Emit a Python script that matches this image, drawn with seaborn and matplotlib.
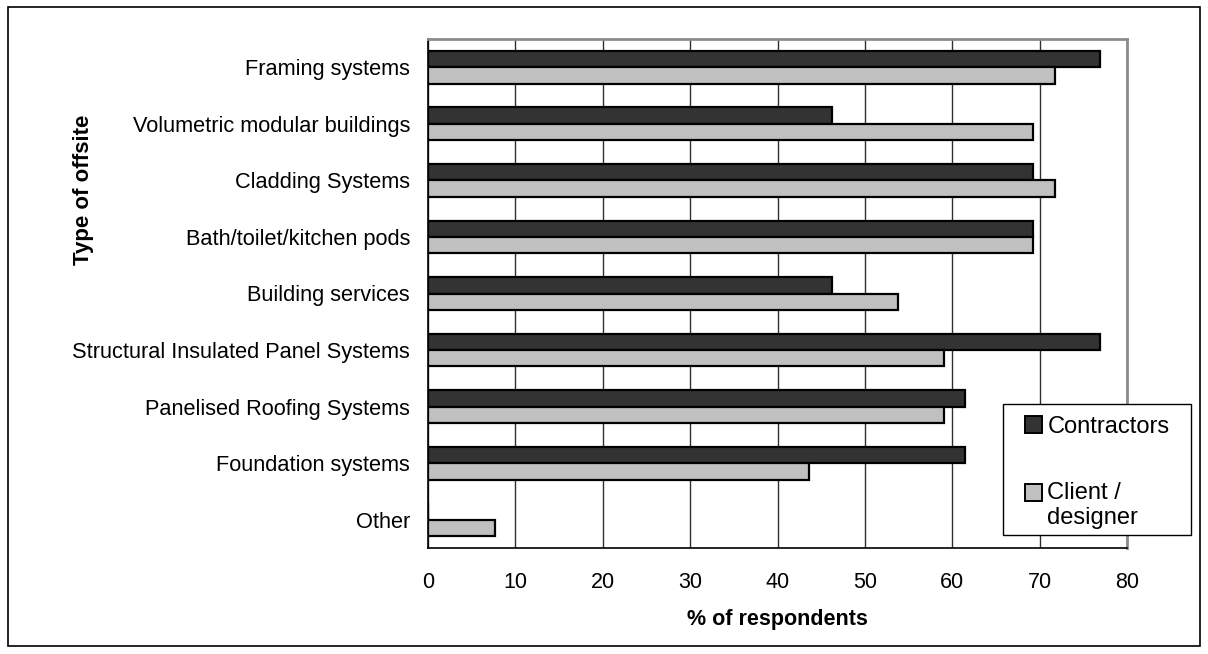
import matplotlib
matplotlib.use("Agg")
import matplotlib.pyplot as plt
from matplotlib.patches import Rectangle, Patch
from matplotlib.legend_handler import HandlerPatch
import numpy as np
import pandas as pd
import seaborn as sns

# Survey results: share of respondents per type of offsite construction
categories = [
    "Framing systems",
    "Volumetric modular buildings",
    "Cladding Systems",
    "Bath/toilet/kitchen pods",
    "Building services",
    "Structural Insulated Panel Systems",
    "Panelised Roofing Systems",
    "Foundation systems",
    "Other",
]
contractors = [76.9, 46.2, 69.2, 69.2, 46.2, 76.9, 61.5, 61.5, 0.0]
client_designer = [71.8, 69.2, 71.8, 69.2, 53.8, 59.0, 59.0, 43.6, 7.7]
series_names = ["Contractors", "Client / designer"]
legend_labels = ["Contractors", "Client /\ndesigner"]
x_ticks = [0, 10, 20, 30, 40, 50, 60, 70, 80]

df = pd.DataFrame({
    "Type": categories * 2,
    "Percent": contractors + client_designer,
    "Group": [series_names[0]] * len(categories) + [series_names[1]] * len(categories),
})

sns.set_theme(style="white")
plt.rcParams["font.family"] = ["Liberation Sans", "DejaVu Sans"]
for key in ["text.color", "axes.labelcolor", "xtick.color", "ytick.color"]:
    plt.rcParams[key] = "black"

W, H = 1208, 654
fig = plt.figure(figsize=(W / 100, H / 100), dpi=100)
ax = fig.add_axes([428 / W, 1 - 548 / H, (1127 - 428) / W, (548 - 39) / H])

colors = ["#333333", "#c0c0c0"]
sns.barplot(
    data=df, y="Type", x="Percent", hue="Group", order=categories,
    hue_order=series_names, palette=colors, orient="h", width=0.58,
    edgecolor="black", linewidth=1.6, ax=ax, legend=False, zorder=3,
)

ax.set_xlim(0, 80)
ax.set_ylim(len(categories) - 0.5, -0.5)
ax.set_xticks(x_ticks)
ax.set_xticklabels([str(t) for t in x_ticks], fontsize=15.5)
ax.tick_params(axis="x", direction="out", length=6, width=1, color="black", pad=11)

# Category labels at centres, tick marks at category boundaries
ax.set_yticks(range(len(categories)))
ax.set_yticklabels(categories, fontsize=15.7)
ax.tick_params(axis="y", length=0, pad=13)
ax.set_yticks(np.arange(-0.5, len(categories)), minor=True)
ax.tick_params(axis="y", which="minor", direction="out", length=6, width=1, color="black")

ax.grid(axis="x", color="#303030", linewidth=1, zorder=0)
ax.grid(axis="y", visible=False)
ax.set_axisbelow(True)

for side in ["left", "bottom"]:
    ax.spines[side].set_color("black")
    ax.spines[side].set_linewidth(1.2)
for side in ["top", "right"]:
    ax.spines[side].set_color("#8c8c8c")
    ax.spines[side].set_linewidth(2)

ax.set_xlabel("% of respondents", fontsize=15.5, fontweight="bold", labelpad=12)
ax.set_ylabel("Type of offsite", fontsize=16, fontweight="bold", ha="center", va="center")
ax.yaxis.set_label_coords((83 - 428) / (1127 - 428), (548 - 190) / (548 - 39))


# Legend swatch aligned with the first line of a two-line label
def swatch(legend, orig_handle, xdescent, ydescent, width, height, fontsize):
    shift = fontsize * 0.55 if "\n" in orig_handle.get_label() else 0.0
    return Rectangle((-xdescent, -ydescent + shift), width, height)


handles = [Patch(facecolor=c, edgecolor="black", linewidth=1.4, label=l)
           for c, l in zip(colors, legend_labels)]

# Legend box
fig.patches.append(Rectangle((1003 / W, 1 - 535 / H), (1191 - 1003) / W, (535 - 404) / H,
                             transform=fig.transFigure, facecolor="white",
                             edgecolor="black", linewidth=1.0, zorder=4))
leg = fig.legend(
    handles, legend_labels, loc="upper left",
    bbox_to_anchor=(1025 / W, 1 - 416 / H), fontsize=17,
    frameon=False, handlelength=0.7, handleheight=0.7,
    handletextpad=0.25, labelspacing=1.85, borderpad=0, borderaxespad=0,
    handler_map={Patch: HandlerPatch(patch_func=swatch)},
)
leg.set_zorder(5)

# Outer chart border
fig.patches.append(Rectangle((8 / W, 1 - 646 / H), (1200 - 8) / W, (646 - 7) / H,
                             transform=fig.transFigure, fill=False,
                             edgecolor="black", linewidth=1.2))

fig.savefig("out.png", dpi=100)
